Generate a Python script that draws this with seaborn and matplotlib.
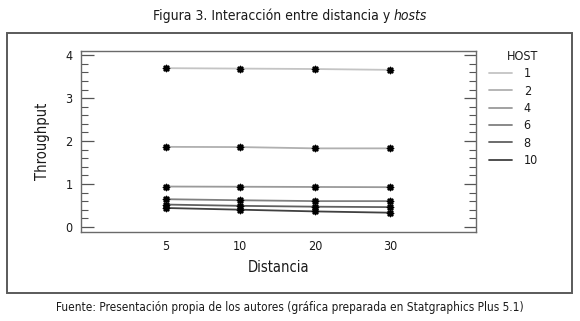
import matplotlib
matplotlib.use("Agg")
import matplotlib.pyplot as plt
import seaborn as sns
import pandas as pd
from matplotlib.patches import Rectangle

distancia = ["5", "10", "20", "30"]
hosts = ["1", "2", "4", "6", "8", "10"]
throughput = {
    "1": [3.70, 3.69, 3.68, 3.66],
    "2": [1.865, 1.86, 1.83, 1.83],
    "4": [0.94, 0.935, 0.93, 0.925],
    "6": [0.645, 0.62, 0.60, 0.60],
    "8": [0.52, 0.49, 0.47, 0.46],
    "10": [0.44, 0.40, 0.36, 0.33],
}
line_colors = ["#c4c4c4", "#b0b0b0", "#9a9a9a", "#808080", "#606060", "#404040"]
y_ticks = [0, 1, 2, 3, 4]

rows = []
for h in hosts:
    for d, v in zip(distancia, throughput[h]):
        rows.append({"Distancia": d, "Throughput": v, "HOST": h})
df = pd.DataFrame(rows)

sns.set_theme(style="white")
plt.rcParams["font.family"] = ["DejaVu Sans"]
plt.rcParams["font.stretch"] = "condensed"
txtc = "#1a1a1a"

fig = plt.figure(figsize=(5.8, 3.21), dpi=100)
ax = fig.add_axes([81/580, 1 - 232/321, (476-81)/580, (232-51)/321])

sns.lineplot(data=df, x="Distancia", y="Throughput", hue="HOST",
             hue_order=hosts, palette=line_colors, linewidth=1.3, ax=ax,
             sort=False)
sns.scatterplot(data=df, x="Distancia", y="Throughput", color="black",
                marker=(8, 2, 0), s=18, linewidth=1.2, edgecolor="black",
                legend=False, ax=ax, zorder=5)

ax.set_xlim(-1.13, 4.15)
ax.set_ylim(-0.12, 4.1)
ax.set_yticks(y_ticks)
ax.set_yticks([i * 0.2 for i in range(0, 21)], minor=True)
ax.tick_params(axis="y", which="major", direction="in", length=9, width=0.9,
               color="#555555", left=True, right=True, labelsize=9,
               labelcolor=txtc, pad=6)
ax.tick_params(axis="y", which="minor", direction="in", length=5, width=0.8,
               color="#555555", left=True, right=True)
ax.tick_params(axis="x", length=0, labelsize=9, labelcolor=txtc, pad=6)
for s in ax.spines.values():
    s.set_color("#6a6a6a")
    s.set_linewidth(1.0)
ax.set_xlabel("Distancia", fontsize=10.5, color=txtc, labelpad=5)
ax.set_ylabel("Throughput", fontsize=10.5, color=txtc, labelpad=11)

handles, labels = ax.get_legend_handles_labels()
leg = ax.legend(handles, labels, title="HOST", frameon=False,
                loc="upper left", bbox_to_anchor=(1.01, 1.055),
                fontsize=9, title_fontsize=9, handlelength=1.9,
                handletextpad=0.9, labelspacing=0.35, alignment="right",
                borderaxespad=0.3)
for t in leg.get_texts():
    t.set_color(txtc)
leg.get_title().set_color(txtc)

fig.patches.append(Rectangle((7/580, 1 - 293/321), 565/580, 260/321,
                             transform=fig.transFigure, fill=False,
                             edgecolor="#5a5a5a", linewidth=1.4))

# Title with italic "hosts"
t1 = fig.text(0.5, 1 - 16/321, "Figura 3. Interacción entre distancia y ",
              ha="center", va="center", fontsize=10, color=txtc)
t2 = fig.text(0.5, 1 - 16/321, "hosts", ha="left", va="center",
              fontsize=10, style="italic", color=txtc)
fig.canvas.draw()
r = fig.canvas.get_renderer()
b1 = t1.get_window_extent(r)
b2 = t2.get_window_extent(r)
total = b1.width + b2.width
start = (580 - total) / 2
t1.set_ha("left")
t1.set_x(start / 580)
t2.set_x((start + b1.width) / 580)

fig.text(0.5, 1 - 307/321,
         "Fuente: Presentación propia de los autores (gráfica preparada en Statgraphics Plus 5.1)",
         ha="center", va="center", fontsize=8.5, color=txtc)

fig.savefig("out.png", dpi=100)
